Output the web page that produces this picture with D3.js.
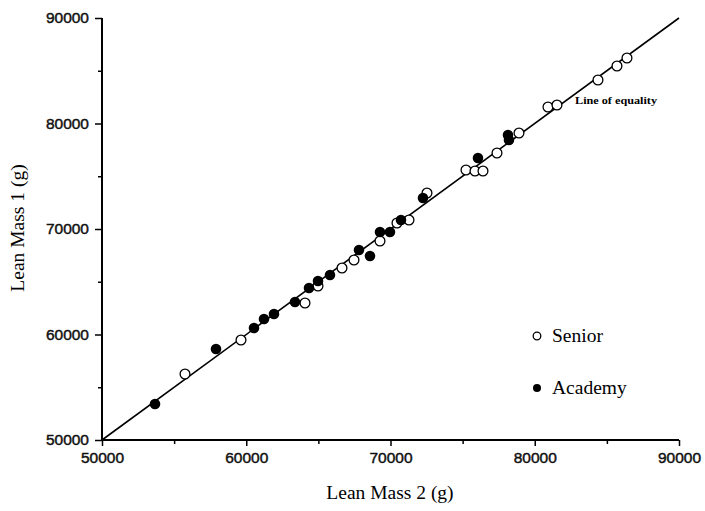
<!DOCTYPE html>
<html><head><meta charset="utf-8">
<script src="https://cdn.jsdelivr.net/npm/d3@7"></script>
<style>body{margin:0;background:#fff}</style>
</head><body>
<svg id="c" width="705" height="511"></svg>
<script>
const academyX = [53674,57903,60537,61230,61923,63379,64350,64973,65805,67815,68578,69271,69964,70727,72252,76064,78144,78213];
const academyY = [53412,58626,60616,61470,61944,63081,64408,65072,65640,68010,67441,69716,69716,70854,72940,76731,78911,78437];
const seniorX = [55754,59635,64072,64973,66637,67469,69271,70450,71282,72529,75233,75857,76411,77382,78907,80917,81541,84383,85700,86393];
const seniorY = [56256,59479,62986,64598,66304,67062,68863,70570,70854,73413,75593,75498,75498,77205,79101,81566,81755,84124,85451,86209];
const majorTicks = [50000,60000,70000,80000,90000];
const minorTicks = [55000,65000,75000,85000];
const xTitle = "Lean Mass 2 (g)";
const yTitle = "Lean Mass 1 (g)";
const lineLabel = "Line of equality";
const legendLabels = ["Senior","Academy"];

const svg = d3.select("#c");
const x = d3.scaleLinear().domain([50000,90000]).range([102,679]);
const y = d3.scaleLinear().domain([50000,90000]).range([440,18]);
const serif = "'Liberation Serif','Times New Roman',serif";
const sans = "'Liberation Sans',Arial,sans-serif";

// axes
const xAxis = d3.axisBottom(x).tickValues(majorTicks).tickFormat(d3.format("d")).tickSize(6).tickPadding(6);
const yAxis = d3.axisLeft(y).tickValues(majorTicks).tickFormat(d3.format("d")).tickSize(7).tickPadding(6);
const gx = svg.append("g").attr("transform","translate(0,440)").call(xAxis);
const gy = svg.append("g").attr("transform","translate(102,0)").call(yAxis);
svg.append("g").attr("transform","translate(0,440)").call(d3.axisBottom(x).tickValues(minorTicks).tickFormat("").tickSize(4)).select(".domain").remove();
svg.append("g").attr("transform","translate(102,0)").call(d3.axisLeft(y).tickValues(minorTicks).tickFormat("").tickSize(4)).select(".domain").remove();
[gx,gy].forEach(g=>{
  g.select(".domain").attr("stroke","#000").attr("stroke-width",2);
  g.selectAll(".tick text").attr("font-family",sans).attr("font-size",15.5)
    .attr("fill","#111").attr("stroke","#111").attr("stroke-width",0.45);
});
svg.selectAll(".tick line").attr("stroke","#000").attr("stroke-width",1.5);
gx.selectAll(".domain").attr("d","M102,0H679");
gy.selectAll(".domain").attr("d","M0,440V18");

// line of equality
svg.append("line").attr("x1",x(50000)).attr("y1",y(50000)).attr("x2",x(90000)).attr("y2",y(90000))
  .attr("stroke","#000").attr("stroke-width",1.6);
svg.append("text").attr("x",575).attr("y",104).attr("font-family",serif).attr("font-size",10).attr("font-weight","bold")
  .attr("textLength",82).attr("lengthAdjust","spacingAndGlyphs").text(lineLabel);

// points
const senior = seniorX.map((v,i)=>[v,seniorY[i]]);
const academy = academyX.map((v,i)=>[v,academyY[i]]);
svg.append("g").selectAll("circle").data(senior).join("circle")
  .attr("cx",d=>x(d[0])).attr("cy",d=>y(d[1])).attr("r",4.9)
  .attr("fill","#fff").attr("stroke","#000").attr("stroke-width",1.3);
svg.append("g").selectAll("circle").data(academy).join("circle")
  .attr("cx",d=>x(d[0])).attr("cy",d=>y(d[1])).attr("r",5.3)
  .attr("fill","#000");

// legend
svg.append("circle").attr("cx",537).attr("cy",336).attr("r",3.8).attr("fill","#fff").attr("stroke","#000").attr("stroke-width",1.3);
svg.append("circle").attr("cx",537).attr("cy",388).attr("r",4).attr("fill","#000");
svg.append("text").attr("x",552).attr("y",342).attr("font-family",serif).attr("font-size",19.5).text(legendLabels[0]);
svg.append("text").attr("x",552).attr("y",394).attr("font-family",serif).attr("font-size",19.5).text(legendLabels[1]);

// titles
svg.append("text").attr("x",390).attr("y",499).attr("text-anchor","middle").attr("font-family",serif).attr("font-size",19.5).text(xTitle);
svg.append("text").attr("transform","translate(24,228) rotate(-90)").attr("text-anchor","middle").attr("font-family",serif).attr("font-size",19.5).text(yTitle);
</script>
</body></html>
